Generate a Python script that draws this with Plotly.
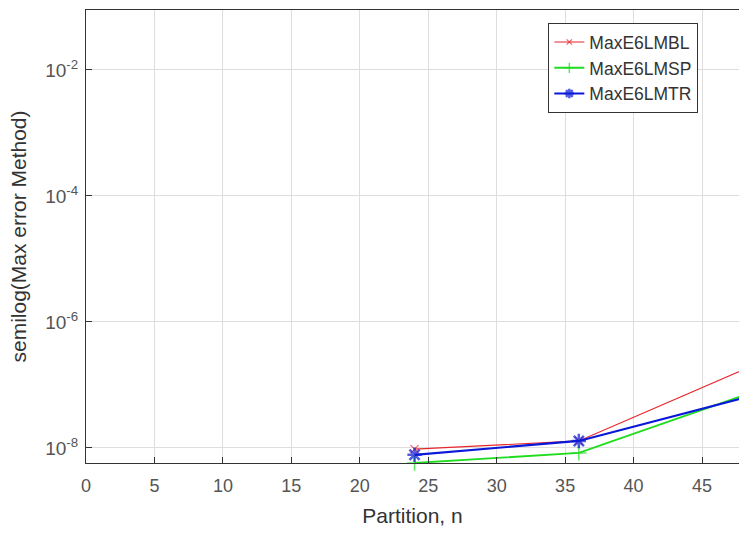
import plotly.graph_objects as go

partition = [24, 36, 48]
max_bl = [10**-8.02, 10**-7.89, 10**-6.76]
max_sp = [10**-8.24, 10**-8.08, 10**-7.17]
max_tr = [10**-8.11, 10**-7.89, 10**-7.21]
series_names = ["MaxE6LMBL", "MaxE6LMSP", "MaxE6LMTR"]
ytick_vals = [1e-8, 1e-6, 1e-4, 1e-2]
ytick_text = ["10<sup>-8</sup>", "10<sup>-6</sup>", "10<sup>-4</sup>", "10<sup>-2</sup>"]
xtick_vals = [0, 5, 10, 15, 20, 25, 30, 35, 40, 45]

# last point lies just past the visible right edge (the figure is cropped there)
def sizes(s):
    return [s if x < 47.7 else 0 for x in partition]

fig = go.Figure()
fig.add_trace(go.Scatter(x=partition, y=max_bl, name=series_names[0], mode="lines+markers",
                         legendgroup="a", cliponaxis=False,
                         line=dict(color="#e8262a", width=1.2),
                         marker=dict(symbol="x-thin", size=sizes(8), color="#e8262a",
                                     line=dict(color="#e8262a", width=1.2))))
fig.add_trace(go.Scatter(x=partition, y=max_sp, name=series_names[1], mode="lines+markers",
                         legendgroup="b", cliponaxis=False,
                         line=dict(color="#1fdc1f", width=1.8),
                         marker=dict(symbol="cross-thin", size=sizes(11), color="#1fdc1f",
                                     line=dict(color="#1fdc1f", width=1.5))))
fig.add_trace(go.Scatter(x=partition, y=max_tr, name=series_names[2], mode="lines+markers",
                         legendgroup="c", cliponaxis=False,
                         line=dict(color="#0a18d8", width=2.2),
                         marker=dict(symbol="asterisk", size=sizes(12), color="#0a18d8",
                                     line=dict(color="#0a18d8", width=2.5))))

fig.update_layout(
    width=739, height=538,
    margin=dict(l=86, r=0, t=10, b=75),
    plot_bgcolor="white", paper_bgcolor="white",
    font=dict(family="Liberation Sans, Arial", size=14, color="#333333"),
    showlegend=True,
    legend=dict(x=0.708, y=0.971, xanchor="left", yanchor="top",
                bgcolor="white", bordercolor="#333333", borderwidth=1,
                font=dict(size=17.5, color="#333333"),
                tracegroupgap=0),
)
fig.update_xaxes(range=[0, 47.7], tickvals=xtick_vals, ticks="inside", ticklen=6,
                 tickcolor="#333333", showline=True, linecolor="#333333", linewidth=1.2,
                 mirror=True, showgrid=True, gridcolor="#dedede", gridwidth=1,
                 zeroline=False, tickfont=dict(size=18, color="#555555"),
                 ticklabelstandoff=6,
                 title=dict(text="Partition, n", font=dict(size=21, color="#333333"), standoff=13))
fig.update_yaxes(type="log", range=[-8.24, -1.05], tickvals=ytick_vals, ticktext=ytick_text,
                 ticks="inside", ticklen=6, tickcolor="#333333", showline=True,
                 linecolor="#333333", linewidth=1.2, mirror=False, showgrid=True,
                 gridcolor="#dedede", gridwidth=1, zeroline=False,
                 tickfont=dict(size=19, color="#555555"), ticklabelstandoff=3,
                 title=dict(text="semilog(Max error Method)", font=dict(size=21, color="#333333"), standoff=12))

fig.write_html("out.html")
